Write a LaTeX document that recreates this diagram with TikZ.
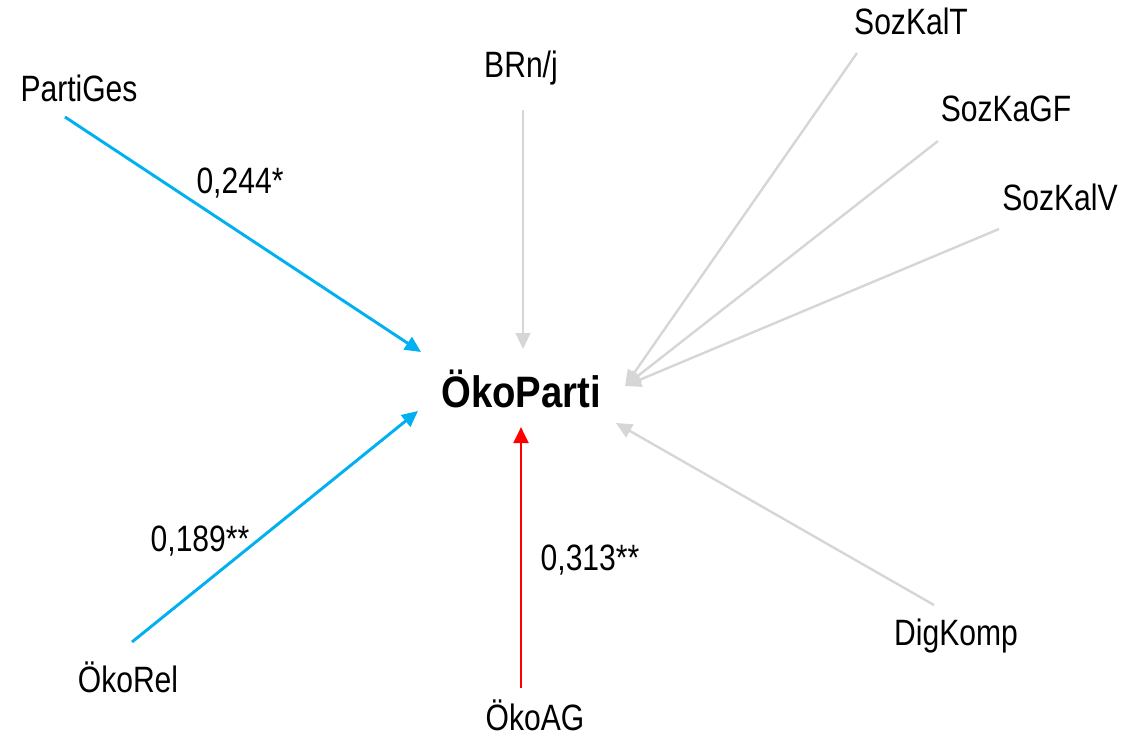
\documentclass[tikz,border=0pt]{standalone}
\usepackage{fontspec}
\setmainfont{Liberation Sans}[FakeStretch=0.82]
\newfontfamily\widesans{Liberation Sans}[FakeStretch=0.87]
\usetikzlibrary{arrows.meta}
\definecolor{cblue}{HTML}{00B0F0}
\definecolor{cred}{HTML}{FF0000}
\definecolor{cgray}{HTML}{D6D6D6}
\tikzset{
  lbl/.style={anchor=base, inner sep=0pt, font=\fontsize{27.5}{30}\selectfont},
  mainlbl/.style={anchor=base, inner sep=0pt, font=\widesans\bfseries\fontsize{33}{36}\selectfont},
  arr/.style={line width=#1, -{Triangle[length=12pt,width=11pt]}},
  bluearr/.style={arr=2.2pt, draw=cblue},
  redarr/.style={arr=2.2pt, draw=cred},
  grayarr/.style={arr=1.8pt, draw=cgray},
}
\begin{document}
\begin{tikzpicture}[x=0.75pt,y=-0.75pt]
\useasboundingbox (0,0) rectangle (1127,738);
% labels
\node[lbl] (pg) at (79,102) {PartiGes};
\node[lbl] (br) at (521,78) {BRn/j};
\node[lbl] (skt) at (911,35) {SozKalT};
\node[lbl] (skg) at (1006,122) {SozKaGF};
\node[lbl] (skv) at (1060,210) {SozKalV};
\node[lbl] (orl) at (128,692) {ÖkoRel};
\node[lbl] (oag) at (535,730) {ÖkoAG};
\node[lbl] (dk) at (956,645) {DigKomp};
\node[mainlbl] (op) at (521,407) {ÖkoParti};
% connector end points
\coordinate (pg-s) at (65,117);
\coordinate (pg-e) at (421,352);
\coordinate (orl-s) at (132,642);
\coordinate (orl-e) at (418,411);
\coordinate (br-s) at (523,110);
\coordinate (br-e) at (523,349);
\coordinate (oag-s) at (521,688);
\coordinate (oag-e) at (521,427);
\coordinate (skt-s) at (857,53);
\coordinate (skg-s) at (938,141);
\coordinate (skv-s) at (999,229);
\coordinate (sk-e) at (625,386);
\coordinate (dk-s) at (934,605);
\coordinate (dk-e) at (616,423);
% connectors
\draw[bluearr] (pg-s) -- (pg-e);
\draw[bluearr] (orl-s) -- (orl-e);
\draw[grayarr] (br-s) -- (br-e);
\draw[redarr] (oag-s) -- (oag-e);
\draw[grayarr] (skt-s) -- (sk-e);
\draw[grayarr] (skg-s) -- (sk-e);
\draw[grayarr] (skv-s) -- (sk-e);
\draw[grayarr] (dk-s) -- (dk-e);
% coefficients
\node[lbl] (c1) at (240,193) {0,244*};
\node[lbl] (c2) at (200,551) {0,189**};
\node[lbl] (c3) at (590,570) {0,313**};
\end{tikzpicture}
\end{document}
